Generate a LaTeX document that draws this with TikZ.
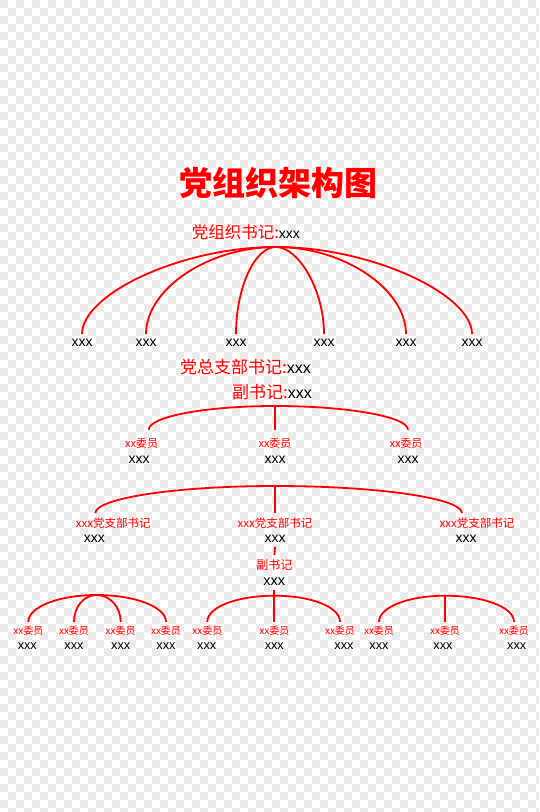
\documentclass[tikz,border=0pt]{standalone}
\usepackage{fontspec}
\setmainfont{Liberation Sans}
\newfontfamily\cjk{Noto Sans CJK SC}
\definecolor{dangred}{HTML}{FF0000}
\definecolor{gridgray}{HTML}{EAEAEA}
\tikzset{
  link/.style={dangred,line width=1.8pt},
  post/.style={text=dangred,font=\cjk\fontsize{#1}{#1}\selectfont,inner sep=4pt},
  person/.style={font=\fontsize{#1}{#1}\selectfont,inner sep=4pt},
}
\begin{document}
\begin{tikzpicture}[x=1pt,y=1pt]
  \useasboundingbox (0,0) rectangle (539,-812);

  % 透明底纹
  \foreach \j in {0,...,101}{
    \pgfmathtruncatemacro\ph{mod(\j,2)*8}
    \draw[gridgray,line width=8pt,dash pattern=on 8pt off 8pt,dash phase=\ph pt]
      (0,{-\j*8-4}) -- (539,{-\j*8-4});
  }

  % 标题
  \node[text=dangred,font=\cjk\bfseries\fontsize{33}{33}\selectfont] (title) at (278,-183) {党组织架构图};

  % 党组织书记
  \node[anchor=west,inner sep=0pt] (zsj) at (191.7,-232)
    {{\cjk\fontsize{16.5}{16.5}\selectfont\color{dangred}党组织书记:}{\fontsize{14}{14}\selectfont xxx}};
  \coordinate (h1) at (276,-247);
  \foreach \n/\x in {a/82,b/146,c/236,d/324,e/406,f/472}
    \node[person=14,inner sep=5pt] (y\n) at (\x,-343) {xxx};
  \draw[link] (h1) to[out=180,in=90,out distance=95pt,in distance=40pt] (ya.north);
  \draw[link] (h1) to[out=180,in=90,out distance=68pt,in distance=45pt] (yb.north);
  \draw[link] (h1) to[out=180,in=90,out distance=22pt,in distance=45pt] (yc.north);
  \draw[link] (h1) to[out=0,in=90,out distance=22pt,in distance=45pt] (yd.north);
  \draw[link] (h1) to[out=0,in=90,out distance=68pt,in distance=45pt] (ye.north);
  \draw[link] (h1) to[out=0,in=90,out distance=95pt,in distance=40pt] (yf.north);

  % 党总支部书记、副书记
  \node[anchor=west,inner sep=0pt] (zzsj) at (180,-367)
    {{\cjk\fontsize{17}{17}\selectfont\color{dangred}党总支部书记:}{\fontsize{16}{16}\selectfont xxx}};
  \node[anchor=west,inner sep=0pt] (zfsj) at (232,-392)
    {{\cjk\fontsize{17}{17}\selectfont\color{dangred}副书记:}{\fontsize{16}{16}\selectfont xxx}};
  \coordinate (h2) at (275,-406);
  \node[post=11,inner sep=8pt] (wa) at (141.7,-443) {xx委员};
  \node[post=11,inner sep=8pt] (wb) at (275,-443) {xx委员};
  \node[post=11,inner sep=8pt] (wc) at (406,-443) {xx委员};
  \node[person=14] (wax) at (139,-460) {xxx};
  \node[person=14] (wbx) at (275,-460) {xxx};
  \node[person=14] (wcx) at (408,-460) {xxx};
  \draw[link] (h2) to[out=180,in=90,out distance=70pt,in distance=13pt] ([xshift=7pt]wa.north);
  \draw[link] (h2) -- (wb.north);
  \draw[link] (h2) to[out=0,in=90,out distance=73pt,in distance=13pt] ([xshift=2pt]wc.north);

  % 各党支部书记
  \coordinate (h3) at (275,-486);
  \node[post=11.5] (sa) at (113.3,-522.7) {xxx党支部书记};
  \node[post=11.5] (sb) at (275,-522.7) {xxx党支部书记};
  \node[post=11.5] (sc) at (477,-522.7) {xxx党支部书记};
  \node[person=14] (sax) at (94.3,-539) {xxx};
  \node[person=14] (sbx) at (275,-539) {xxx};
  \node[person=14] (scx) at (466,-539) {xxx};
  \draw[link] (h3) to[out=180,in=90,out distance=99pt,in distance=15pt] ([xshift=-18pt]sa.north);
  \draw[link] (h3) -- (sb.north);
  \draw[link] (h3) to[out=0,in=90,out distance=103pt,in distance=15pt] ([xshift=-15pt]sc.north);

  % 支部副书记
  \node[post=12] (fj) at (274.3,-565) {副书记};
  \node[person=14.5] (fjx) at (274.3,-581.7) {xxx};
  \draw[link,dash pattern=on 8pt off 3pt] (sbx.south) -- (fj.north);

  % 支部委员
  \coordinate (ha) at (96.7,-595);
  \coordinate (hb) at (274.3,-595.7);
  \coordinate (hc) at (445,-595.7);
  \foreach \n/\x/\xx in {a1/28.3/27.3,a2/74/74,a3/120.7/120.7,a4/166/166,
                         b1/207.3/206.7,b2/274.3/274.3,b3/340/344,
                         c1/379/379,c2/445/443,c3/514/516.7}{
    \node[post=10] (m\n) at (\x,-630.7) {xx委员};
    \node[person=12.7] (m\n x) at (\xx,-646) {xxx};
  }
  \draw[link] (ha) to[out=180,in=90,out distance=38pt,in distance=15pt] (ma1.north);
  \draw[link] (ha) to[out=180,in=90,out distance=13pt,in distance=15pt] (ma2.north);
  \draw[link] (ha) to[out=0,in=90,out distance=13pt,in distance=15pt] (ma3.north);
  \draw[link] (ha) to[out=0,in=90,out distance=38pt,in distance=15pt] (ma4.north);
  \draw[link] (fjx.south) -- (mb2.north);
  \draw[link] (hb) to[out=180,in=90,out distance=37pt,in distance=15pt] (mb1.north);
  \draw[link] (hb) to[out=0,in=90,out distance=37pt,in distance=15pt] (mb3.north);
  \draw[link] (hc) to[out=180,in=90,out distance=36pt,in distance=15pt] (mc1.north);
  \draw[link] (hc) -- (mc2.north);
  \draw[link] (hc) to[out=0,in=90,out distance=38pt,in distance=15pt] (mc3.north);
\end{tikzpicture}
\end{document}
